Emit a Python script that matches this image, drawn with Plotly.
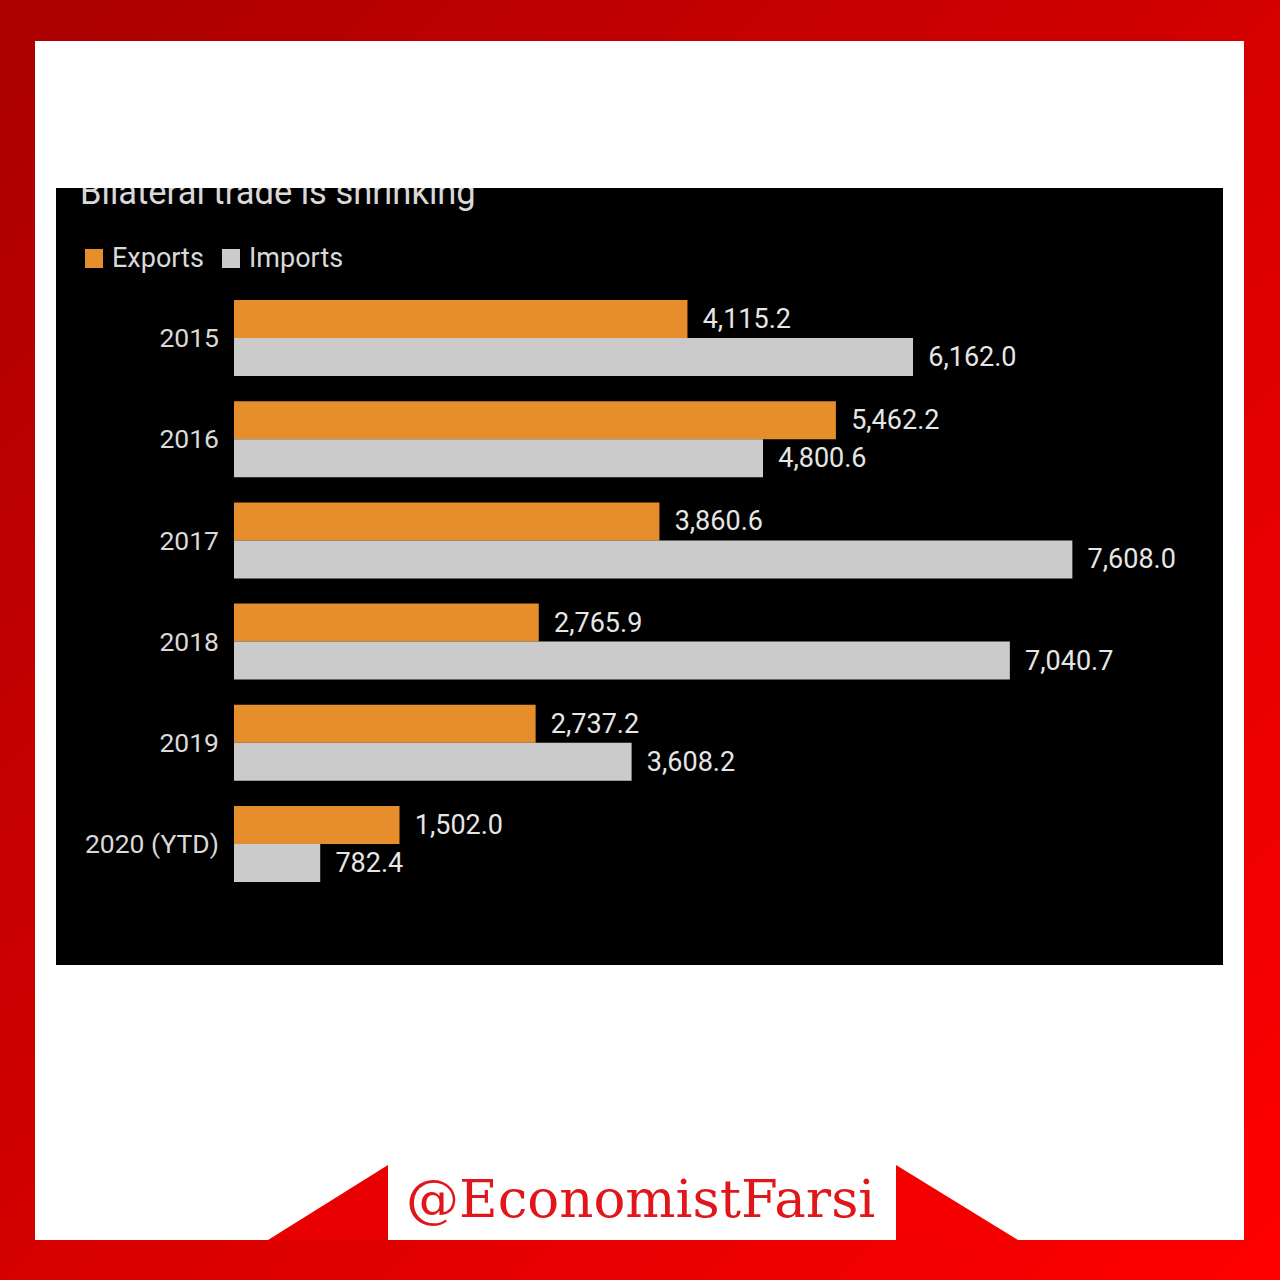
import plotly.graph_objects as go

# ---------------- data ----------------
years = ["2015", "2016", "2017", "2018", "2019", "2020 (YTD)"]
exports = [4115.2, 5462.2, 3860.6, 2765.9, 2737.2, 1502.0]
imports = [6162.0, 4800.6, 7608.0, 7040.7, 3608.2, 782.4]
series_names = ["Exports", "Imports"]
title_text = "Bilateral trade is shrinking"
credit_text = "@EconomistFarsi"

# ---------------- style ----------------
W = H = 1280
ORANGE = "#e58e2b"
GREY = "#cbcbcb"
LABEL = "#e6e6e6"
FONT = "Roboto, Liberation Sans, sans-serif"


def fx(p):
    return p / W


def fy(p):
    return 1 - p / H


fig = go.Figure()

for name, vals, col in zip(series_names, [exports, imports], [ORANGE, GREY]):
    fig.add_trace(go.Bar(
        y=years, x=vals, name=name, orientation="h",
        marker=dict(color=col, line=dict(width=0)),
        texttemplate="\u00a0\u2009%{x:,.1f}", textposition="outside",
        constraintext="none", cliponaxis=False,
        textfont=dict(family=FONT, size=27, color=LABEL),
        showlegend=False, hoverinfo="skip",
    ))

# title (clipped by the top of the black panel, as in the original)
PX0, PX1, PY0, PY1 = 56, 1223, 188, 965
fig.add_trace(go.Scatter(
    x=[(80 - PX0) / (PX1 - PX0)], y=[(PY1 - 195.5) / (PY1 - PY0)],
    mode="text", text=[title_text], textposition="middle right",
    textfont=dict(family=FONT, size=34.5, color="#d9d9d9"),
    marker=dict(size=1), xaxis="x2", yaxis="y2",
    showlegend=False, hoverinfo="skip", cliponaxis=True,
))

# ---------------- background shapes ----------------
shapes = []
N = 40
c0, c1 = (170, 0, 0), (255, 0, 0)
for k in range(N):
    c = k * 2 * W / N
    t = (k + 0.5) / N
    col = "rgb(%d,%d,%d)" % tuple(round(a + (b - a) * t) for a, b in zip(c0, c1))
    if c <= W:
        pts = [(c, 0), (W, 0), (W, H), (0, H), (0, c)]
    else:
        pts = [(W, c - W), (W, H), (c - W, H)]
    path = "M " + " L ".join("%.5f,%.5f" % (fx(x), fy(y)) for x, y in pts) + " Z"
    shapes.append(dict(type="path", path=path, xref="paper", yref="paper",
                       fillcolor=col, line=dict(width=0), layer="below"))


def rect(x0, y0, x1, y1, color):
    return dict(type="rect", xref="paper", yref="paper",
                x0=fx(x0), x1=fx(x1), y0=fy(y1), y1=fy(y0),
                fillcolor=color, line=dict(width=0), layer="below")


shapes.append(rect(35, 41, 1244, 1240, "white"))
shapes.append(rect(PX0, PY0, PX1, PY1, "black"))
# legend swatches
shapes.append(rect(85, 249, 103, 268, ORANGE))
shapes.append(rect(222, 249, 240, 268, GREY))
# credit banner
shapes.append(rect(388, 1165, 896, 1240, "white"))


def tri(pts, color):
    path = "M " + " L ".join("%.5f,%.5f" % (fx(x), fy(y)) for x, y in pts) + " Z"
    return dict(type="path", path=path, xref="paper", yref="paper",
                fillcolor=color, line=dict(width=0), layer="below")


shapes.append(tri([(268, 1240), (388, 1165), (388, 1240)], "rgb(232,0,0)"))
shapes.append(tri([(896, 1165), (896, 1240), (1018, 1240)], "rgb(245,0,0)"))

annotations = [
    dict(text=series_names[0], x=fx(110), y=fy(258), xref="paper", yref="paper",
         xanchor="left", yanchor="middle", showarrow=False,
         font=dict(family=FONT, size=27, color="#d9d9d9")),
    dict(text=series_names[1], x=fx(247), y=fy(258), xref="paper", yref="paper",
         xanchor="left", yanchor="middle", showarrow=False,
         font=dict(family=FONT, size=27, color="#d9d9d9")),
    dict(text=credit_text, x=fx(640), y=fy(1198), xref="paper", yref="paper",
         xanchor="center", yanchor="middle", showarrow=False,
         font=dict(family="DejaVu Serif, Liberation Serif, serif", size=53,
                   color="#e0161b")),
]

fig.update_layout(
    width=W, height=H, margin=dict(l=0, r=0, t=0, b=0),
    paper_bgcolor="rgb(200,0,0)", plot_bgcolor="rgba(0,0,0,0)",
    barmode="group", bargap=0.249, bargroupgap=0,
    shapes=shapes, annotations=annotations, showlegend=False,
    xaxis=dict(domain=[fx(234), fx(1223)], range=[0, 8975], visible=False),
    yaxis=dict(domain=[fy(894.6), fy(287.4)], categoryorder="array",
               categoryarray=years, range=[5.5, -0.5], ticks="",
               showgrid=False, zeroline=False, showline=False,
               ticklabelstandoff=14,
               tickfont=dict(family=FONT, size=26.5, color="#d9d9d9")),
    xaxis2=dict(domain=[fx(PX0), fx(PX1)], range=[0, 1], visible=False,
                anchor="y2"),
    yaxis2=dict(domain=[fy(PY1), fy(PY0)], range=[0, 1], visible=False,
                anchor="x2"),
)

fig.write_html("out.html",
               config={"displayModeBar": False},
               post_script="document.body.style.margin='0';"
                           "document.body.style.overflow='hidden';")
